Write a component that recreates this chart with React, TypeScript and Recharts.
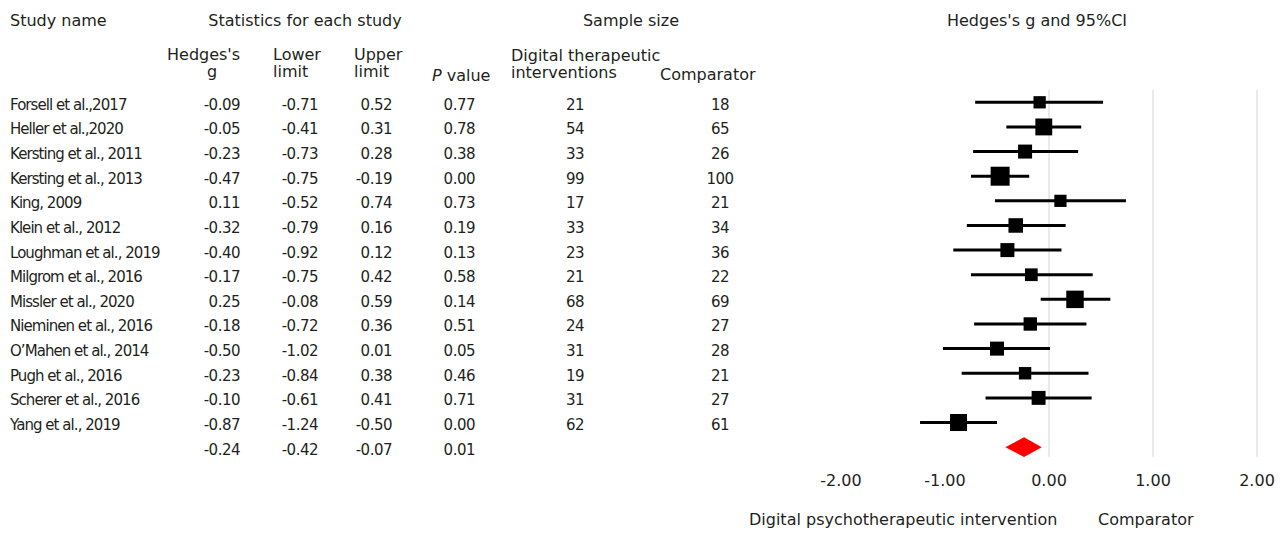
import React from 'react';
import {
  ComposedChart,
  XAxis,
  YAxis,
  Scatter,
  ErrorBar,
  ReferenceLine,
  ReferenceArea,
} from 'recharts';

const studies = [
  'Forsell et al.,2017',
  'Heller et al.,2020',
  'Kersting et al., 2011',
  'Kersting et al., 2013',
  'King, 2009',
  'Klein et al., 2012',
  'Loughman et al., 2019',
  'Milgrom et al., 2016',
  'Missler et al., 2020',
  'Nieminen et al., 2016',
  'O\u2019Mahen et al., 2014',
  'Pugh et al., 2016',
  'Scherer et al., 2016',
  'Yang et al., 2019',
];
const hedges = [-0.09, -0.05, -0.23, -0.47, 0.11, -0.32, -0.4, -0.17, 0.25, -0.18, -0.5, -0.23, -0.1, -0.87];
const lower = [-0.71, -0.41, -0.73, -0.75, -0.52, -0.79, -0.92, -0.75, -0.08, -0.72, -1.02, -0.84, -0.61, -1.24];
const upper = [0.52, 0.31, 0.28, -0.19, 0.74, 0.16, 0.12, 0.42, 0.59, 0.36, 0.01, 0.38, 0.41, -0.5];
const pValues = [0.77, 0.78, 0.38, 0.0, 0.73, 0.19, 0.13, 0.58, 0.14, 0.51, 0.05, 0.46, 0.71, 0.0];
const nDigital = [21, 54, 33, 99, 17, 33, 23, 21, 68, 24, 31, 19, 31, 62];
const nComparator = [18, 65, 26, 100, 21, 34, 36, 22, 69, 27, 28, 21, 27, 61];

const pooledG = -0.24;
const pooledLower = -0.42;
const pooledUpper = -0.07;
const pooledP = 0.01;

const xTicks = [-2, -1, 0, 1, 2];
const gridTicks = [0, 1, 2];

const FONT = '"DejaVu Sans", Verdana, sans-serif';
const INK = '#231f20';

type Row = {
  name: string;
  row: number;
  g: number;
  lo: number;
  hi: number;
  p: number;
  nd?: number;
  nc?: number;
  err?: number[];
};

const rows: Row[] = studies.map((name, i) => ({
  name,
  row: i,
  g: hedges[i],
  lo: lower[i],
  hi: upper[i],
  p: pValues[i],
  nd: nDigital[i],
  nc: nComparator[i],
  err: [hedges[i] - lower[i], upper[i] - hedges[i]],
}));

const pooled: Row[] = [
  { name: '', row: studies.length, g: pooledG, lo: pooledLower, hi: pooledUpper, p: pooledP },
];

// column anchors for the table on the left
const COL = { name: 10, g: 240, lo: 318, hi: 392, p: 475, nd: 575, nc: 720 };

function RowText({ cy, d }: { cy: number; d: Row }) {
  const y = cy + 7.5;
  const num = { fontSize: 15, fill: INK, fontFamily: FONT, letterSpacing: -0.5 } as const;
  return (
    <g>
      {d.name && (
        <text x={COL.name} y={y} {...num} letterSpacing={-0.95}>
          {d.name}
        </text>
      )}
      <text x={COL.g} y={y} textAnchor="end" {...num}>{d.g.toFixed(2)}</text>
      <text x={COL.lo} y={y} textAnchor="end" {...num}>{d.lo.toFixed(2)}</text>
      <text x={COL.hi} y={y} textAnchor="end" {...num}>{d.hi.toFixed(2)}</text>
      <text x={COL.p} y={y} textAnchor="end" {...num}>{d.p.toFixed(2)}</text>
      {d.nd != null && (
        <text x={COL.nd} y={y} textAnchor="middle" {...num}>{d.nd}</text>
      )}
      {d.nc != null && (
        <text x={COL.nc} y={y} textAnchor="middle" {...num}>{d.nc}</text>
      )}
    </g>
  );
}

function StudyShape(props: any) {
  const { cx, cy, payload } = props;
  // box size grows with total sample size
  const s = 4.1 * Math.log((payload.nd + payload.nc) / 39) + 12.3;
  return (
    <g>
      <RowText cy={cy} d={payload} />
      <rect x={cx - s / 2} y={cy - s / 2} width={s} height={s} fill="#000" />
    </g>
  );
}

function PooledShape(props: any) {
  return <RowText cy={props.cy} d={props.payload} />;
}

function Diamond(props: any) {
  const { x, y, width, height } = props;
  const mid = x + (width * (pooledG - pooledLower)) / (pooledUpper - pooledLower);
  const cy = y + height / 2;
  return (
    <polygon
      points={`${x},${cy} ${mid},${y} ${x + width},${cy} ${mid},${y + height}`}
      fill="#ff0000"
    />
  );
}

function Headers() {
  const h = { fontSize: 16, fill: INK, fontFamily: FONT } as const;
  return (
    <svg
      width={1285}
      height={533}
      style={{ position: 'absolute', left: 0, top: 0, pointerEvents: 'none' }}
    >
      <text x={10} y={26} {...h}>Study name</text>
      <text x={305} y={26} textAnchor="middle" {...h}>Statistics for each study</text>
      <text x={631} y={26} textAnchor="middle" {...h}>Sample size</text>
      <text x={1037} y={26} textAnchor="middle" {...h}>Hedges's g and 95%CI</text>

      <text x={167} y={60} {...h}>Hedges's</text>
      <text x={207} y={77} {...h}>g</text>
      <text x={273} y={60} {...h}>Lower</text>
      <text x={273} y={77} {...h}>limit</text>
      <text x={354} y={60} {...h}>Upper</text>
      <text x={354} y={77} {...h}>limit</text>
      <text x={432} y={81} {...h}>
        <tspan fontStyle="italic">P</tspan> value
      </text>
      <text x={511} y={61} {...h}>Digital therapeutic</text>
      <text x={511} y={78} {...h}>interventions</text>
      <text x={660} y={80} {...h}>Comparator</text>

      <text x={749} y={525} {...h}>Digital psychotherapeutic intervention</text>
      <text x={1098} y={525} {...h}>Comparator</text>
    </svg>
  );
}

export default function App(): React.ReactElement {
  return (
    <div
      style={{
        position: 'absolute',
        left: 0,
        top: 0,
        width: 1285,
        height: 533,
        background: '#fff',
      }}
    >
      <ComposedChart
        width={1285}
        height={533}
        margin={{ top: 90, right: 28, bottom: 46, left: 841 }}
      >
        <XAxis
          type="number"
          dataKey="g"
          domain={[-2, 2]}
          ticks={xTicks}
          axisLine={false}
          tickLine={false}
          tickSize={0}
          tickMargin={18}
          height={30}
          tickFormatter={(v: number) => v.toFixed(2)}
          tick={{ fontSize: 16, fill: INK, fontFamily: FONT }}
        />
        <YAxis type="number" dataKey="row" domain={[-0.5, 14.4]} reversed hide />
        {gridTicks.map((t) => (
          <ReferenceLine key={t} x={t} stroke="#d4d4d4" strokeWidth={1} />
        ))}
        <Scatter data={rows} shape={<StudyShape />} isAnimationActive={false}>
          <ErrorBar dataKey="err" direction="x" width={0} stroke="#000" strokeWidth={3} />
        </Scatter>
        <Scatter data={pooled} shape={<PooledShape />} isAnimationActive={false} />
        <ReferenceArea
          x1={pooledLower}
          x2={pooledUpper}
          y1={studies.length - 0.4}
          y2={studies.length + 0.4}
          shape={<Diamond />}
        />
      </ComposedChart>
      <Headers />
    </div>
  );
}
